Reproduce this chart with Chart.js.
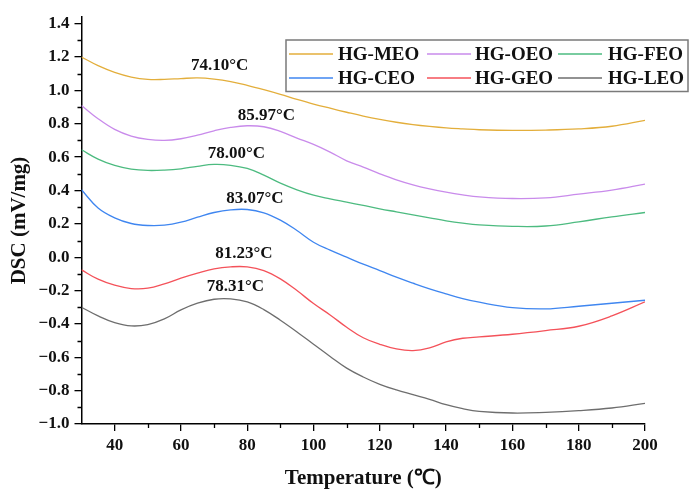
<!DOCTYPE html>
<html>
<head>
<meta charset="utf-8">
<script src="https://cdn.jsdelivr.net/npm/chart.js@4.4.1/dist/chart.umd.min.js"></script>
<style>
html,body{margin:0;padding:0;background:#fff;}
#wrap{width:695px;height:495px;position:relative;}
</style>
</head>
<body>
<div id="wrap"><canvas id="c" width="695" height="495"></canvas></div>
<script>
// ---- data ----
const temperature = [30,35,40,45,50,55,60,65,70,75,80,85,90,95,100,105,110,115,120,125,130,135,140,145,150,160,170,180,190,200];
const seriesNames = ['HG-MEO','HG-OEO','HG-FEO','HG-CEO','HG-GEO','HG-LEO'];
const meo = [1.200,1.148,1.108,1.080,1.066,1.066,1.071,1.075,1.068,1.053,1.030,1.004,0.976,0.946,0.918,0.893,0.869,0.846,0.826,0.809,0.795,0.784,0.775,0.769,0.764,0.760,0.762,0.769,0.785,0.820];
const oeo = [0.910,0.830,0.766,0.726,0.706,0.700,0.710,0.732,0.758,0.778,0.788,0.782,0.754,0.714,0.676,0.630,0.578,0.540,0.500,0.464,0.434,0.410,0.390,0.374,0.362,0.352,0.356,0.378,0.402,0.438];
const feo = [0.644,0.588,0.550,0.528,0.520,0.522,0.530,0.545,0.556,0.551,0.532,0.492,0.444,0.404,0.372,0.350,0.330,0.310,0.290,0.272,0.254,0.236,0.218,0.204,0.194,0.185,0.187,0.212,0.242,0.268];
const ceo = [0.404,0.295,0.236,0.202,0.190,0.192,0.210,0.240,0.268,0.284,0.286,0.266,0.222,0.160,0.090,0.042,0.000,-0.042,-0.080,-0.120,-0.156,-0.190,-0.220,-0.248,-0.270,-0.302,-0.310,-0.294,-0.276,-0.258];
const geo = [-0.076,-0.132,-0.168,-0.188,-0.186,-0.160,-0.126,-0.096,-0.070,-0.058,-0.058,-0.080,-0.130,-0.200,-0.278,-0.346,-0.420,-0.483,-0.522,-0.550,-0.560,-0.544,-0.508,-0.486,-0.478,-0.462,-0.440,-0.414,-0.352,-0.268];
const leo = [-0.300,-0.352,-0.392,-0.412,-0.404,-0.370,-0.316,-0.276,-0.252,-0.250,-0.268,-0.314,-0.378,-0.448,-0.522,-0.595,-0.665,-0.718,-0.762,-0.796,-0.824,-0.852,-0.884,-0.908,-0.924,-0.934,-0.930,-0.920,-0.904,-0.876];
const seriesColors = ['#E3AE3B','#C98BEB','#4DBB80','#3F86F0','#F4525A','#6E6E6E'];
const peakLabels = ['74.10°C','85.97°C','78.00°C','83.07°C','81.23°C','78.31°C'];
const peakLabelT = [71.7,85.8,76.7,82.3,79.0,76.4];
const peakLabelV = [1.148,0.850,0.624,0.350,0.024,-0.176];

const allValues = [meo,oeo,feo,ceo,geo,leo];
const FONT = "'Liberation Serif','Times New Roman',serif";

const datasets = seriesNames.map((n,i)=>({
  label:n,
  data: temperature.map((t,k)=>({x:t,y:allValues[i][k]})),
  borderColor: seriesColors[i],
  backgroundColor: seriesColors[i],
  borderWidth: 1.3,
  pointRadius: 0,
  tension: 0.4,
  fill:false
}));

const extras = {
  id:'extras',
  afterDraw(chart){
    const ctx = chart.ctx;
    const xs = chart.scales.x, ys = chart.scales.y;
    ctx.save();
    // minor ticks
    ctx.strokeStyle = '#000'; ctx.lineWidth = 1.3;
    ctx.beginPath();
    for (let v=-0.9; v<1.41; v+=0.2){
      const py = Math.round(ys.getPixelForValue(v))+0.5;
      ctx.moveTo(xs.left, py); ctx.lineTo(xs.left-4, py);
    }
    for (let t=50; t<200; t+=20){
      const px = Math.round(xs.getPixelForValue(t))+0.5;
      ctx.moveTo(px, ys.bottom); ctx.lineTo(px, ys.bottom+4);
    }
    ctx.stroke();
    // peak labels
    ctx.fillStyle='#111';
    ctx.font = "bold 17px "+FONT;
    ctx.textAlign='center'; ctx.textBaseline='middle';
    peakLabels.forEach((s,i)=>{
      ctx.fillText(s, xs.getPixelForValue(peakLabelT[i]), ys.getPixelForValue(peakLabelV[i]));
    });
    // legend box
    const bx=286, by=40, bw=402, bh=51.5;
    ctx.fillStyle='#fff';
    ctx.fillRect(bx,by,bw,bh);
    ctx.strokeStyle='#7a7a7a'; ctx.lineWidth=1.5;
    ctx.strokeRect(bx,by,bw,bh);
    const colLine=[289,427,558], colText=[338,475,608], rowY=[54,78];
    ctx.font = "bold 19px "+FONT;
    ctx.textAlign='left'; ctx.textBaseline='middle';
    seriesNames.forEach((n,i)=>{
      const r = Math.floor(i/3), c = i%3;
      ctx.strokeStyle = seriesColors[i]; ctx.lineWidth=1.5;
      ctx.beginPath(); ctx.moveTo(colLine[c], rowY[r]); ctx.lineTo(colLine[c]+44, rowY[r]); ctx.stroke();
      ctx.fillStyle='#111';
      ctx.fillText(n, colText[c], rowY[r]+1);
    });
    ctx.restore();
  }
};

new Chart(document.getElementById('c'), {
  type:'line',
  data:{datasets},
  options:{
    responsive:false,
    animation:false,
    devicePixelRatio:1,
    layout:{padding:{top:17,right:50,left:0,bottom:0}},
    plugins:{legend:{display:false},tooltip:{enabled:false}},
    scales:{
      x:{
        type:'linear', min:30, max:200,
        afterFit(s){ s.height = 71; },
        border:{display:true,color:'#000',width:1.5},
        grid:{drawOnChartArea:false, drawTicks:true, tickLength:7, color:'#000', tickColor:'#000', lineWidth:1.3},
        ticks:{stepSize:20, includeBounds:false, padding:4, color:'#111', font:{family:FONT, size:17, weight:'bold'}, maxRotation:0},
        title:{display:true, text:'Temperature (℃)', color:'#111', font:{family:FONT, size:21, weight:'bold'}, padding:{top:0,bottom:4}}
      },
      y:{
        type:'linear', min:-1.0, max:1.44,
        afterFit(s){ s.width = 81.5; },
        border:{display:true,color:'#000',width:1.5},
        grid:{drawOnChartArea:false, drawTicks:true, tickLength:7, color:'#000', tickColor:'#000', lineWidth:1.3},
        ticks:{stepSize:0.2, includeBounds:false, padding:5, color:'#111', font:{family:FONT, size:17, weight:'bold'},
          callback:(v)=>{ const s=Math.abs(v).toFixed(1); return (v< -1e-9 ? '\u2212' : '') + s; }},
        title:{display:true, text:'DSC (mV/mg)', color:'#111', font:{family:FONT, size:21, weight:'bold'}, padding:{top:7,bottom:0}}
      }
    }
  },
  plugins:[extras]
});
</script>
</body>
</html>
